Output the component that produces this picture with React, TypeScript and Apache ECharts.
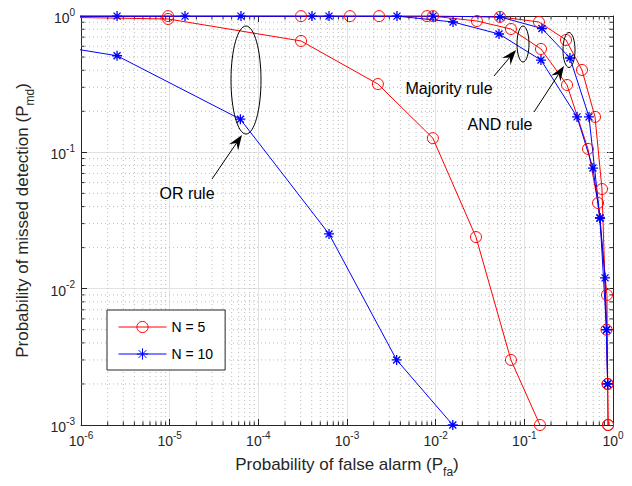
import React, { useEffect, useRef } from "react";
import * as echarts from "echarts";

const FONT = "'Liberation Sans', Arial, Helvetica, sans-serif";
const X_MIN = 1e-6;
const X_MAX = 1;
const Y_MIN = 1e-3;
const Y_MAX = 1;

// N = 5 (red)
const n5OR: [number, number][] = [
  [1e-7, 0.998], [9.6e-6, 0.951], [3.03e-4, 0.656], [2.23e-3, 0.317], [9.3e-3, 0.127],
  [0.0285, 0.0239], [0.0706, 0.003], [0.15, 0.001],
];
const n5Majority: [number, number][] = [
  [1e-7, 0.998], [9.6e-6, 0.998], [3.03e-4, 0.998], [2.3e-3, 0.998], [9.33e-3, 0.997],
  [0.0292, 0.919], [0.0706, 0.803], [0.154, 0.573], [0.303, 0.312], [0.522, 0.106],
  [0.678, 0.0425], [0.855, 0.009], [0.87, 0.002], [0.88, 0.001],
];
const n5AND: [number, number][] = [
  [1e-7, 0.998], [1.08e-3, 0.998], [7.98e-3, 0.998], [0.0531, 0.985], [0.146, 0.904],
  [0.295, 0.667], [0.447, 0.402], [0.627, 0.182], [0.751, 0.0538], [0.845, 0.005],
  [0.87, 0.002], [0.88, 0.001],
];

// N = 10 (blue)
const n10OR: [number, number][] = [
  [1e-7, 0.72], [2.55e-6, 0.511], [6.27e-5, 0.175], [6.27e-4, 0.0252], [3.63e-3, 0.003],
  [0.0156, 0.001],
];
const n10Majority: [number, number][] = [
  [1e-7, 0.998], [2.55e-6, 0.998], [6.37e-5, 0.998], [6.27e-4, 0.998], [3.66e-3, 0.998],
  [0.0157, 0.904], [0.0518, 0.738], [0.154, 0.475], [0.393, 0.182], [0.594, 0.0767],
  [0.713, 0.033], [0.813, 0.012], [0.845, 0.005], [0.87, 0.002],
];
const n10AND: [number, number][] = [
  [1e-7, 0.998], [1.49e-5, 0.998], [4.03e-4, 0.998], [9.33e-3, 0.998], [0.0531, 0.985],
  [0.158, 0.81], [0.327, 0.492], [0.536, 0.182], [0.713, 0.033], [0.845, 0.005],
  [0.87, 0.002],
];

const LEGEND_NAMES = ["N = 5", "N = 10"];
const X_TITLE = "{m|Probability of false alarm (P}{sub|fa}{m|)}";
const Y_TITLE = "{m|Probability of missed detection (P}{sub|md}{m|)}";

const RED = "#ff0000";
const BLUE = "#0000ff";
const AXIS = "#262626";
const STAR = "path://M5,0L5,10M0,5L10,5M1.5,1.5L8.5,8.5M1.5,8.5L8.5,1.5";

// minor grid positions (2..9 per decade)
const minorItems: number[][] = [];
for (let e = -6; e < 0; e++) for (let m = 2; m <= 9; m++) minorItems.push([m * Math.pow(10, e), Y_MIN, 0]);
for (let e = -3; e < 0; e++) for (let m = 2; m <= 9; m++) minorItems.push([X_MIN, m * Math.pow(10, e), 1]);

function arrow(x1: number, y1: number, x2: number, y2: number) {
  const dx = x2 - x1, dy = y2 - y1;
  const len = Math.sqrt(dx * dx + dy * dy);
  const ux = dx / len, uy = dy / len;
  const nx = -uy, ny = ux;
  const L = 15, W = 5.5;
  const bx = x2 - ux * L, by = y2 - uy * L;
  const kx = x2 - ux * L * 0.65, ky = y2 - uy * L * 0.65;
  return [
    { type: "line", shape: { x1, y1, x2: kx, y2: ky }, style: { stroke: "#000", lineWidth: 1 }, z: 100 },
    {
      type: "polygon",
      shape: { points: [[x2, y2], [bx + nx * W, by + ny * W], [kx, ky], [bx - nx * W, by - ny * W]] },
      style: { fill: "#000" },
      z: 100,
    },
  ];
}

function label(text: string, x: number, y: number) {
  return {
    type: "text",
    x,
    y,
    z: 100,
    style: {
      text,
      fill: "#000",
      fontSize: 16,
      fontFamily: FONT,
      align: "center",
      verticalAlign: "middle",
      textAlign: "center",
      textVerticalAlign: "middle",
    },
  };
}

function ellipse(cx: number, cy: number, rx: number, ry: number) {
  return { type: "ellipse", shape: { cx, cy, rx, ry }, style: { fill: "none", stroke: "#000", lineWidth: 1 }, z: 100 };
}

const tickRich = {
  b: { fontSize: 14, fontFamily: FONT, color: AXIS, lineHeight: 18, verticalAlign: "bottom" },
  sup: { fontSize: 10, fontFamily: FONT, color: AXIS, lineHeight: 10, verticalAlign: "top" },
};
const titleRich = {
  m: { fontSize: 17, fontFamily: FONT, color: AXIS, lineHeight: 21, verticalAlign: "top" },
  sub: { fontSize: 12, fontFamily: FONT, color: AXIS, lineHeight: 12, padding: [10, 0, 0, 0], verticalAlign: "top" },
};
const fmt = (v: number) => `{b|10}{sup|${Math.round(Math.log10(v))}}`;

function lineSeries(name: string, data: [number, number][], color: string, star: boolean) {
  return {
    type: "line",
    name,
    data,
    xAxisIndex: 0,
    yAxisIndex: 0,
    clip: true,
    symbol: star ? STAR : "circle",
    symbolSize: star ? 10 : 11,
    showSymbol: true,
    lineStyle: { color, width: 1 },
    itemStyle: { color: "rgba(0,0,0,0)", borderColor: color, borderWidth: star ? 1.3 : 1 },
    emphasis: { disabled: true },
    z: 5,
  };
}

export default function App() {
  const ref = useRef<HTMLDivElement>(null);
  useEffect(() => {
    if (!ref.current) return;
    const chart = echarts.init(ref.current, undefined, { renderer: "svg" });
    const option: any = {
      animation: false,
      backgroundColor: "#fff",
      grid: { left: 81, right: 19, top: 16, bottom: 61, containLabel: false },
      xAxis: [
        {
          type: "log",
          logBase: 10,
          min: X_MIN,
          max: X_MAX,
          position: "bottom",
          name: X_TITLE,
          nameLocation: "middle",
          nameGap: 31,
          nameTextStyle: { rich: titleRich },
          axisLine: { show: true, lineStyle: { color: AXIS, width: 1 } },
          axisTick: { show: true, inside: true, length: 6, lineStyle: { color: AXIS } },
          axisLabel: { formatter: fmt, rich: tickRich, margin: 5, showMinLabel: true, showMaxLabel: true },
          splitLine: { show: true, lineStyle: { color: "#e2e2e2", width: 1 } },
        },
        {
          type: "log",
          logBase: 10,
          min: X_MIN,
          max: X_MAX,
          position: "top",
          axisLine: { show: true, lineStyle: { color: AXIS, width: 1 } },
          axisTick: { show: true, inside: true, length: 6, lineStyle: { color: AXIS } },
          axisLabel: { show: false },
          splitLine: { show: false },
        },
      ],
      yAxis: [
        {
          type: "log",
          logBase: 10,
          min: Y_MIN,
          max: Y_MAX,
          position: "left",
          name: Y_TITLE,
          nameLocation: "middle",
          nameGap: 46,
          nameTextStyle: { rich: titleRich },
          axisLine: { show: true, lineStyle: { color: AXIS, width: 1 } },
          axisTick: { show: true, inside: true, length: 6, lineStyle: { color: AXIS } },
          axisLabel: { formatter: fmt, rich: tickRich, margin: 6, showMinLabel: true, showMaxLabel: true },
          splitLine: { show: true, lineStyle: { color: "#e2e2e2", width: 1 } },
        },
        {
          type: "log",
          logBase: 10,
          min: Y_MIN,
          max: Y_MAX,
          position: "right",
          axisLine: { show: true, lineStyle: { color: AXIS, width: 1 } },
          axisTick: { show: true, inside: true, length: 6, lineStyle: { color: AXIS } },
          axisLabel: { show: false },
          splitLine: { show: false },
        },
      ],
      legend: {
        data: LEGEND_NAMES,
        orient: "vertical",
        left: 107,
        top: 310,
        padding: [10, 12, 9, 11],
        itemGap: 13,
        itemWidth: 48,
        itemHeight: 14,
        borderColor: AXIS,
        borderWidth: 1,
        borderRadius: 0,
        backgroundColor: "#fff",
        selectedMode: false,
        lineStyle: { width: 1 },
        itemStyle: { borderWidth: 1 },
        textStyle: { fontSize: 14, fontFamily: FONT, color: "#000" },
        z: 50,
      },
      series: [
        {
          type: "custom",
          name: "_grid",
          xAxisIndex: 0,
          yAxisIndex: 0,
          silent: true,
          z: 1,
          data: minorItems,
          encode: { x: 0, y: 1 },
          renderItem: (_p: any, api: any) => {
            const kind = api.value(2);
            if (kind === 0) {
              const v = api.value(0);
              const b = api.coord([v, Y_MIN]);
              const t = api.coord([v, Y_MAX]);
              return {
                type: "group",
                children: [
                  { type: "line", shape: { x1: b[0], y1: b[1], x2: t[0], y2: t[1] }, style: { stroke: "#bdbdbd", lineWidth: 1, lineDash: [1, 3] } },
                  { type: "line", shape: { x1: b[0], y1: b[1], x2: b[0], y2: b[1] - 3.5 }, style: { stroke: AXIS, lineWidth: 1 } },
                  { type: "line", shape: { x1: t[0], y1: t[1], x2: t[0], y2: t[1] + 3.5 }, style: { stroke: AXIS, lineWidth: 1 } },
                ],
              };
            }
            const v = api.value(1);
            const l = api.coord([X_MIN, v]);
            const r = api.coord([X_MAX, v]);
            return {
              type: "group",
              children: [
                { type: "line", shape: { x1: l[0], y1: l[1], x2: r[0], y2: r[1] }, style: { stroke: "#bdbdbd", lineWidth: 1, lineDash: [1, 3] } },
                { type: "line", shape: { x1: l[0], y1: l[1], x2: l[0] + 3.5, y2: l[1] }, style: { stroke: AXIS, lineWidth: 1 } },
                { type: "line", shape: { x1: r[0], y1: r[1], x2: r[0] - 3.5, y2: r[1] }, style: { stroke: AXIS, lineWidth: 1 } },
              ],
            };
          },
        },
        lineSeries("N = 5", n5OR, RED, false),
        lineSeries("N = 5", n5Majority, RED, false),
        lineSeries("N = 5", n5AND, RED, false),
        lineSeries("N = 10", n10OR, BLUE, true),
        lineSeries("N = 10", n10Majority, BLUE, true),
        lineSeries("N = 10", n10AND, BLUE, true),
      ],
      graphic: [
        ellipse(246, 80, 15, 54),
        ...arrow(212, 179, 242, 135),
        label("OR rule", 187, 193),
        ellipse(523, 44, 6, 18),
        ...arrow(494, 76, 516, 50),
        label("Majority rule", 449, 88),
        ellipse(569, 50, 6, 17.5),
        ...arrow(534, 112, 564, 66),
        label("AND rule", 500, 124),
      ],
    };
    chart.setOption(option);
    return () => chart.dispose();
  }, []);
  return <div ref={ref} style={{ position: "absolute", left: 0, top: 0, width: 632, height: 486 }} />;
}
